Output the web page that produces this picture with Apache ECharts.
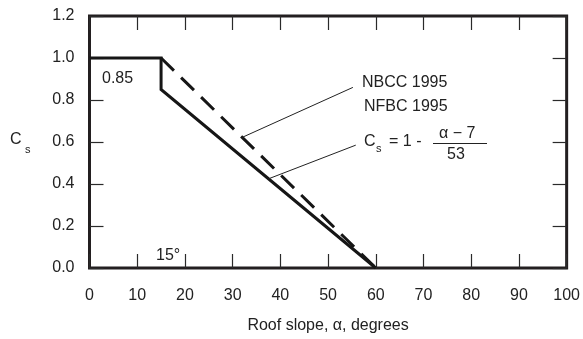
<!DOCTYPE html>
<html>
<head>
<meta charset="utf-8">
<script src="https://cdn.jsdelivr.net/npm/echarts@6/dist/echarts.min.js"></script>
<style>
html,body{margin:0;padding:0;background:#fff;}
#c{width:583px;height:339px;}
</style>
</head>
<body>
<div id="c"></div>
<script>
// Data
var xTicks = [0, 10, 20, 30, 40, 50, 60, 70, 80, 90, 100];
var yTicks = [0.0, 0.2, 0.4, 0.6, 0.8, 1.0, 1.2];
// Solid line: Cs = 1 for alpha <= 15, then 0.85 dropping to 0 at 60 (Cs = 1 - (alpha-7)/53)
var solidX = [0, 15, 15, 60];
var solidY = [1.0, 1.0, 0.85, 0.0];
// Dashed line: 1.0 at 15 to 0 at 60
var dashedX = [15, 60];
var dashedY = [1.0, 0.0];
// Leader lines (annotation pointers, data coordinates)
var leader1X = [55.2, 32.0];
var leader1Y = [0.86, 0.622];
var leader2X = [55.8, 37.5];
var leader2Y = [0.585, 0.4245];

function pairs(xs, ys){ return xs.map(function(x,i){ return [x, ys[i]]; }); }

var FONT = '"Liberation Sans", Arial, Helvetica, sans-serif';
var INK = '#231f20';
var TXT = '#222222';
var FS = 16;

var chart = echarts.init(document.getElementById('c'), null, {renderer:'canvas'});

function ticks(){ return {show:true, inside:true, length:14, lineStyle:{color:'#2a2a2a', width:1.2}}; }
function noLine(){ return {show:false, onZero:false}; }

var option = {
  animation:false,
  backgroundColor:'#fff',
  grid:{left:89.5, right:11.3, top:16, bottom:68.3, show:true, borderColor:INK, borderWidth:3, backgroundColor:'transparent'},
  xAxis:[
    {type:'value', min:xTicks[0], max:xTicks[xTicks.length-1], interval:10, position:'bottom',
     axisLine:noLine(), axisTick:ticks(), splitLine:{show:false},
     axisLabel:{margin:20, fontSize:FS, color:TXT, fontFamily:FONT},
     name:'Roof slope, α, degrees', nameLocation:'middle', nameGap:50,
     nameTextStyle:{fontSize:FS, color:TXT, fontFamily:FONT}},
    {type:'value', min:xTicks[0], max:xTicks[xTicks.length-1], interval:10, position:'top',
     axisLine:noLine(), axisTick:ticks(), splitLine:{show:false}, axisLabel:{show:false}}
  ],
  yAxis:[
    {type:'value', min:yTicks[0], max:yTicks[yTicks.length-1], interval:0.2, position:'left',
     axisLine:noLine(), axisTick:ticks(), splitLine:{show:false},
     axisLabel:{margin:15, fontSize:FS, color:TXT, fontFamily:FONT, formatter:function(v){return v.toFixed(1);}}},
    {type:'value', min:yTicks[0], max:yTicks[yTicks.length-1], interval:0.2, position:'right',
     axisLine:noLine(), axisTick:ticks(), splitLine:{show:false}, axisLabel:{show:false}}
  ],
  series:[
    {type:'line', data:pairs(solidX, solidY), symbol:'none', silent:true,
     lineStyle:{color:'#161616', width:3, join:'miter'}},
    {type:'line', data:pairs(dashedX, dashedY), symbol:'none', silent:true,
     lineStyle:{color:'#161616', width:3, type:[18,10]}},
    {type:'line', data:pairs(leader1X, leader1Y), symbol:'none', silent:true,
     lineStyle:{color:'#222', width:1}},
    {type:'line', data:pairs(leader2X, leader2Y), symbol:'none', silent:true,
     lineStyle:{color:'#222', width:1}}
  ],
  graphic:[
    {type:'text', left:10, top:132, style:{text:'C', fontSize:FS, fill:TXT, fontFamily:FONT}},
    {type:'text', left:25, top:144, style:{text:'s', fontSize:11, fill:TXT, fontFamily:FONT}},
    {type:'text', left:102, top:71, style:{text:'0.85', fontSize:FS, fill:TXT, fontFamily:FONT}},
    {type:'text', left:156, top:248, style:{text:'15°', fontSize:FS, fill:TXT, fontFamily:FONT}},
    {type:'text', left:362, top:75, style:{text:'NBCC 1995', fontSize:FS, fill:TXT, fontFamily:FONT}},
    {type:'text', left:364, top:99, style:{text:'NFBC 1995', fontSize:FS, fill:TXT, fontFamily:FONT}},
    {type:'text', left:364, top:134, style:{text:'C', fontSize:FS, fill:TXT, fontFamily:FONT}},
    {type:'text', left:376, top:143, style:{text:'s', fontSize:11, fill:TXT, fontFamily:FONT}},
    {type:'text', left:389, top:134, style:{text:'= 1 -', fontSize:FS, fill:TXT, fontFamily:FONT}},
    {type:'text', left:439, top:126, style:{text:'α − 7', fontSize:FS, fill:TXT, fontFamily:FONT}},
    {type:'line', shape:{x1:433, y1:143.5, x2:487, y2:143.5}, style:{stroke:'#222', lineWidth:1}},
    {type:'text', left:447, top:147, style:{text:'53', fontSize:FS, fill:TXT, fontFamily:FONT}}
  ]
};
chart.setOption(option);
</script>
</body>
</html>
